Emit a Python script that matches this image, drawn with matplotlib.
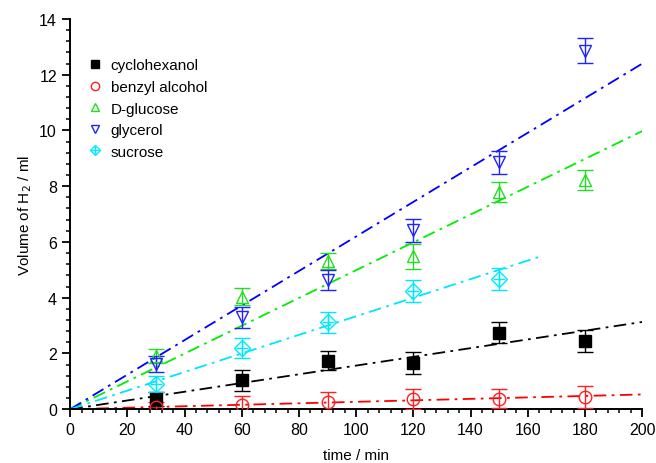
import numpy as np
import matplotlib
matplotlib.use("Agg")
import matplotlib.pyplot as plt
from matplotlib.lines import Line2D

plt.rcParams['font.family'] = ['Liberation Sans', 'DejaVu Sans']

time = np.array([30, 60, 90, 120, 150, 180])

cyclohexanol = [0.36, 1.04, 1.74, 1.65, 2.75, 2.45]
cyclohexanol_err = [0.25, 0.37, 0.35, 0.4, 0.36, 0.4]
benzyl = [0.07, 0.15, 0.26, 0.38, 0.38, 0.44]
benzyl_err = [0.2, 0.33, 0.36, 0.36, 0.34, 0.4]
glucose = [1.91, 4.04, 5.32, 5.48, 7.8, 8.22]
glucose_err = [0.25, 0.3, 0.3, 0.45, 0.35, 0.35]
glycerol = [1.62, 3.29, 4.64, 6.42, 8.85, 12.86]
glycerol_err = [0.3, 0.36, 0.36, 0.42, 0.4, 0.45]
sucrose = [0.9, 2.21, 3.11, 4.25, 4.67]
sucrose_err = [0.3, 0.36, 0.38, 0.4, 0.38]

names = ["cyclohexanol", "benzyl alcohol", "D-glucose", "glycerol", "sucrose"]
values = [cyclohexanol, benzyl, glucose, glycerol, sucrose]
errors = [cyclohexanol_err, benzyl_err, glucose_err, glycerol_err, sucrose_err]
fit_end = [200, 200, 200, 200, 165]

colors = ["black", "#ff2020", "#22dd22", "#2222ff", "#00e8ff"]
line_colors = ["black", "#ff0000", "#00ee00", "#0000ff", "#00e5ff"]
markers = ["s", "o", "^", "v", "D"]

fig = plt.figure(figsize=(6.56, 4.64), dpi=100)
ax = fig.add_axes([0.107, 0.116, 0.872, 0.841])

for i in range(len(names)):
    y = np.array(values[i])
    x = time[:len(y)]
    # linear fit through origin
    k = np.sum(x * y) / np.sum(x * x)
    xf = np.array([0, fit_end[i]])
    ax.plot(xf, k * xf, color=line_colors[i], lw=1.3, ls=(0, (7, 3, 1.5, 3)), zorder=2)

handles = []
for i in range(len(names)):
    y = np.array(values[i])
    x = time[:len(y)]
    face = colors[i] if i == 0 else "none"
    ms = 9 if markers[i] != "D" else 8
    ax.errorbar(x, y, yerr=errors[i], fmt=markers[i], color=colors[i], mfc=face,
                mec=colors[i], ms=ms, mew=1.0, elinewidth=1.0, capsize=6,
                capthick=1.0, zorder=3)
    h = Line2D([], [], ls="none", marker=markers[i], color=colors[i],
               mfc=face, mec=colors[i], ms=6 if markers[i] != "D" else 5.5, mew=1.0)
    if markers[i] == "D":
        ax.plot(x, y, '+', color=colors[i], ms=9, mew=1.0, zorder=4)
        h = (h, Line2D([], [], ls="none", marker="+", color=colors[i], ms=6, mew=1.0))
    handles.append(h)

ax.set_xlim(0, 200)
ax.set_ylim(0, 14)
ax.set_xticks(np.arange(0, 201, 20))
ax.set_xticks(np.arange(0, 201, 4), minor=True)
ax.set_yticks(np.arange(0, 15, 2))
ax.set_yticks(np.arange(0, 14.01, 0.4), minor=True)
ax.tick_params(which="major", direction="out", length=6, width=1.3, labelsize=11.5)
ax.tick_params(which="minor", direction="out", length=3, width=1.1)
for s in ["top", "right"]:
    ax.spines[s].set_visible(False)
for s in ["left", "bottom"]:
    ax.spines[s].set_linewidth(1.4)

ax.set_xlabel("time / min", fontsize=11, labelpad=8)
ax.set_ylabel("Volume of H$_2$ / ml", fontsize=11)

ax.legend(handles, names, loc="upper left", bbox_to_anchor=(0.02, 0.915), frameon=False,
          fontsize=11, handlelength=1.0, handletextpad=0.5, labelspacing=0.5,
          borderaxespad=0.0)

fig.savefig("out.png", dpi=100)
